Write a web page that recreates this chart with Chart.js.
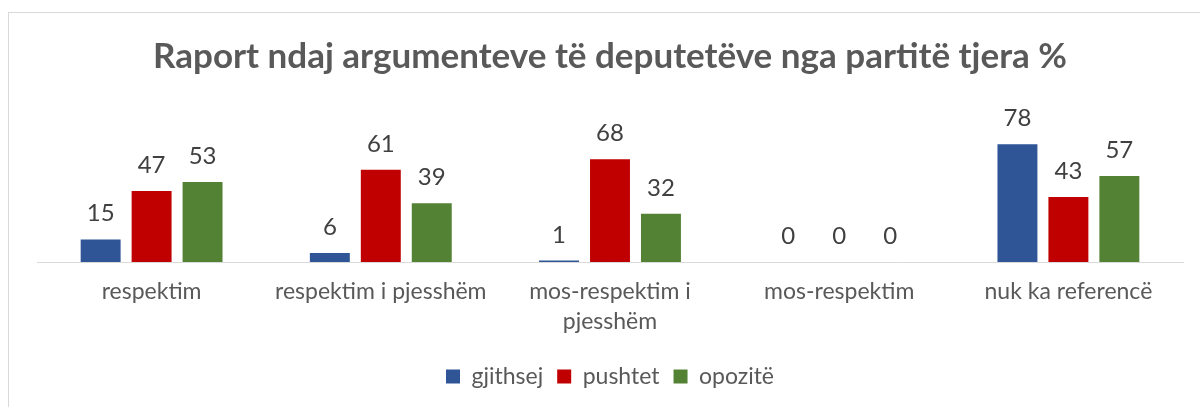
<!DOCTYPE html>
<html>
<head>
<meta charset="utf-8">
<script src="https://cdn.jsdelivr.net/npm/chart.js@4/dist/chart.umd.min.js"></script>
<style>
  html, body { margin: 0; padding: 0; background: #fff; overflow: hidden; }
  #wrap { position: relative; width: 1200px; height: 407px; }
  #frame { position: absolute; left: 8px; top: 12px; width: 1210px; height: 420px; border: 1px solid #d9d9d9; box-sizing: border-box; }
  #c { position: absolute; left: 0; top: 0; }
</style>
</head>
<body>
<div id="wrap">
  <div id="frame"></div>
  <canvas id="c" width="1200" height="407"></canvas>
</div>
<script>
const titleText = "Raport ndaj argumenteve të deputetëve nga partitë tjera %";
const categories = [
  "respektim",
  "respektim i pjesshëm",
  ["mos-respektim i", "pjesshëm"],
  "mos-respektim",
  "nuk ka referencë"
];
const seriesNames = ["gjithsej", "pushtet", "opozitë"];
const gjithsej = [15, 6, 1, 0, 78];
const pushtet = [47, 61, 68, 0, 43];
const opozite = [53, 39, 32, 0, 57];
const colors = ["#2F5597", "#C00000", "#548235"];

const FONT = "Lato, 'Open Sans', sans-serif";

const valueLabels = {
  id: 'valueLabels',
  afterDatasetsDraw(chart) {
    const ctx = chart.ctx;
    ctx.save();
    ctx.font = "24px " + FONT;
    ctx.fillStyle = "#404040";
    ctx.textAlign = "center";
    ctx.textBaseline = "alphabetic";
    chart.data.datasets.forEach((ds, i) => {
      const meta = chart.getDatasetMeta(i);
      meta.data.forEach((el, j) => {
        ctx.fillText(String(ds.data[j]), el.x, el.y - 18);
      });
    });
    ctx.restore();
  }
};

new Chart(document.getElementById('c'), {
  type: 'bar',
  data: {
    labels: categories,
    datasets: [
      { label: seriesNames[0], data: gjithsej, backgroundColor: colors[0] },
      { label: seriesNames[1], data: pushtet, backgroundColor: colors[1] },
      { label: seriesNames[2], data: opozite, backgroundColor: colors[2] }
    ]
  },
  options: {
    responsive: false,
    animation: false,
    categoryPercentage: 0.667,
    barPercentage: 0.784,
    layout: { padding: { left: 37, right: 17, top: 0, bottom: 9 } },
    plugins: {
      title: {
        display: true,
        text: titleText,
        color: "#595959",
        font: { family: FONT, size: 35, weight: 'bold' },
        padding: { top: 36, bottom: 48 }
      },
      legend: {
        position: 'bottom',
        labels: {
          boxWidth: 14, boxHeight: 14,
          color: "#595959",
          font: { family: FONT, size: 23 },
          padding: 14
        }
      },
      tooltip: { enabled: false }
    },
    scales: {
      y: { display: false, min: 0, max: 90 },
      x: {
        grid: { display: false, drawTicks: false },
        border: { display: true, color: "#d9d9d9", width: 1 },
        ticks: {
          color: "#595959",
          font: { family: FONT, size: 23, lineHeight: 1.28 },
          padding: 15,
          maxRotation: 0,
          autoSkip: false
        }
      }
    }
  },
  plugins: [valueLabels]
});
</script>
</body>
</html>
